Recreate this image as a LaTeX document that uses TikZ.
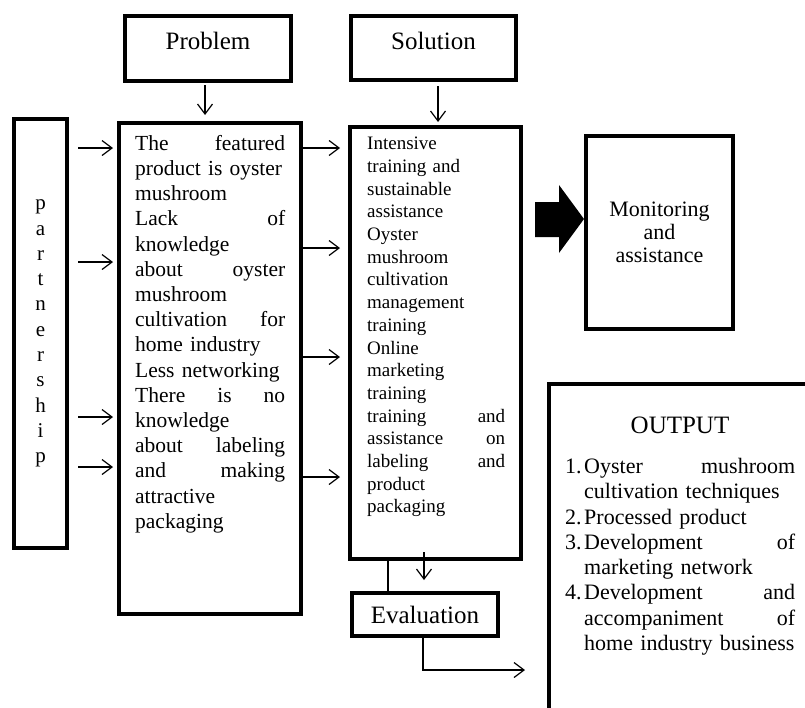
\documentclass[tikz,border=0pt]{standalone}
\usepackage{fontspec}
\setmainfont{Liberation Serif}
\usetikzlibrary{arrows.meta}
\newcommand{\jgap}{\hspace{0pt plus 1filll}}

\begin{document}
\begin{tikzpicture}[x=1pt,y=-1pt,
  box/.style={draw,line width=4pt,inner sep=0pt},
  head/.style={box,minimum width=166pt,minimum height=65pt,font=\fontsize{25}{28}\selectfont,text depth=15pt},
  body/.style={inner sep=0pt,anchor=north west,align=left},
  arr/.style={line width=1.2pt,-{Straight Barb[length=10pt,width=15pt]}}]
\useasboundingbox (0,0) rectangle (805,707);
\clip (0,0) rectangle (805,707);

\node[head] (plab) at (208,48.5) {Problem};
\node[head,minimum width=165pt,minimum height=64pt] (slab) at (433.5,48) {Solution};

\node[box,minimum width=53pt,minimum height=429pt,align=center,font=\fontsize{21}{25.3}\selectfont] (part) at (40.5,333.5) {p\\a\\r\\t\\n\\e\\r\\s\\h\\i\\p};
\node[box,minimum width=182pt,minimum height=491pt] (prob) at (210,368.5) {};
\node[box,minimum width=171pt,minimum height=432pt] (sol) at (435.5,343) {};
\node[box,minimum width=147pt,minimum height=193pt,align=center,font=\fontsize{22}{23}\selectfont] (mon) at (659.5,232.5) {Monitoring\\and\\assistance};
\node[box,minimum width=146pt,minimum height=43pt,font=\fontsize{25}{28}\selectfont] (eval) at (425,614.5) {Evaluation};
\node[box,anchor=north west,minimum width=300pt,minimum height=400pt] (out) at (547,382) {};

\node[body,text width=150pt,font=\fontsize{21.5}{25.2}\selectfont] (ptxt) at (135,135) {The\jgap featured\\ \mbox{product is oyster}\\ mushroom\\ Lack\jgap of\\ knowledge\\ about\jgap oyster\\ mushroom\\ cultivation\jgap for\\ home industry\\ \mbox{Less networking}\\ There\jgap is\jgap no\\ knowledge\\ about\jgap labeling\\ and\jgap making\\ attractive\\ packaging};
\node[body,text width=138pt,font=\fontsize{19}{22.7}\selectfont] (stxt) at (367,137) {Intensive\\ training and\\ sustainable\\ assistance\\ Oyster\\ mushroom\\ cultivation\\ management\\ training\\ Online\\ marketing\\ training\\ training\jgap and\\ assistance\jgap on\\ labeling\jgap and\\ product\\ packaging};
\node[inner sep=0pt,font=\fontsize{25}{28}\selectfont] (otitle) at (680,425) {OUTPUT};
\node[body,text width=230pt,font=\fontsize{22}{25.3}\selectfont] (otxt) at (565,458) {\makebox[19pt][l]{1.}Oyster\jgap mushroom\\ \hspace*{19pt}cultivation techniques\\ \makebox[19pt][l]{2.}Processed product\\ \makebox[19pt][l]{3.}Development\jgap of\\ \hspace*{19pt}marketing network\\ \makebox[19pt][l]{4.}Development\jgap and\\ \hspace*{19pt}accompaniment\jgap of\\ \hspace*{19pt}\mbox{home industry business}};

\draw[arr,shorten <=2pt,shorten >=6pt] (plab.south -| 205,0) -- (prob.north -| 205,0);
\draw[arr,shorten <=4pt,shorten >=3pt] (slab.south -| 438,0) -- (sol.north -| 438,0);
\foreach \y in {148,262,417,467}
  \draw[arr,shorten <=9pt,shorten >=4pt] (part.east |- 0,\y) -- (prob.west |- 0,\y);
\foreach \y in {148,248,357,477}
  \draw[arr,shorten >=8pt] (prob.east |- 0,\y) -- (sol.west |- 0,\y);
\fill (535,202) -- (559,202) -- (559,185) -- (mon.west |- 0,219) -- (559,253) -- (559,237) -- (535,237) -- cycle;
\draw[arr,shorten >=11pt] (sol.south -| 424,0) ++(0,-9) -- (eval.north -| 424,0);
\draw[line width=1.2pt] (sol.south -| 388,0) -- (eval.north -| 388,0);
\coordinate (evout) at (525,670);
\draw[arr] (eval.south -| 423,0) |- (evout);
\end{tikzpicture}
\end{document}
